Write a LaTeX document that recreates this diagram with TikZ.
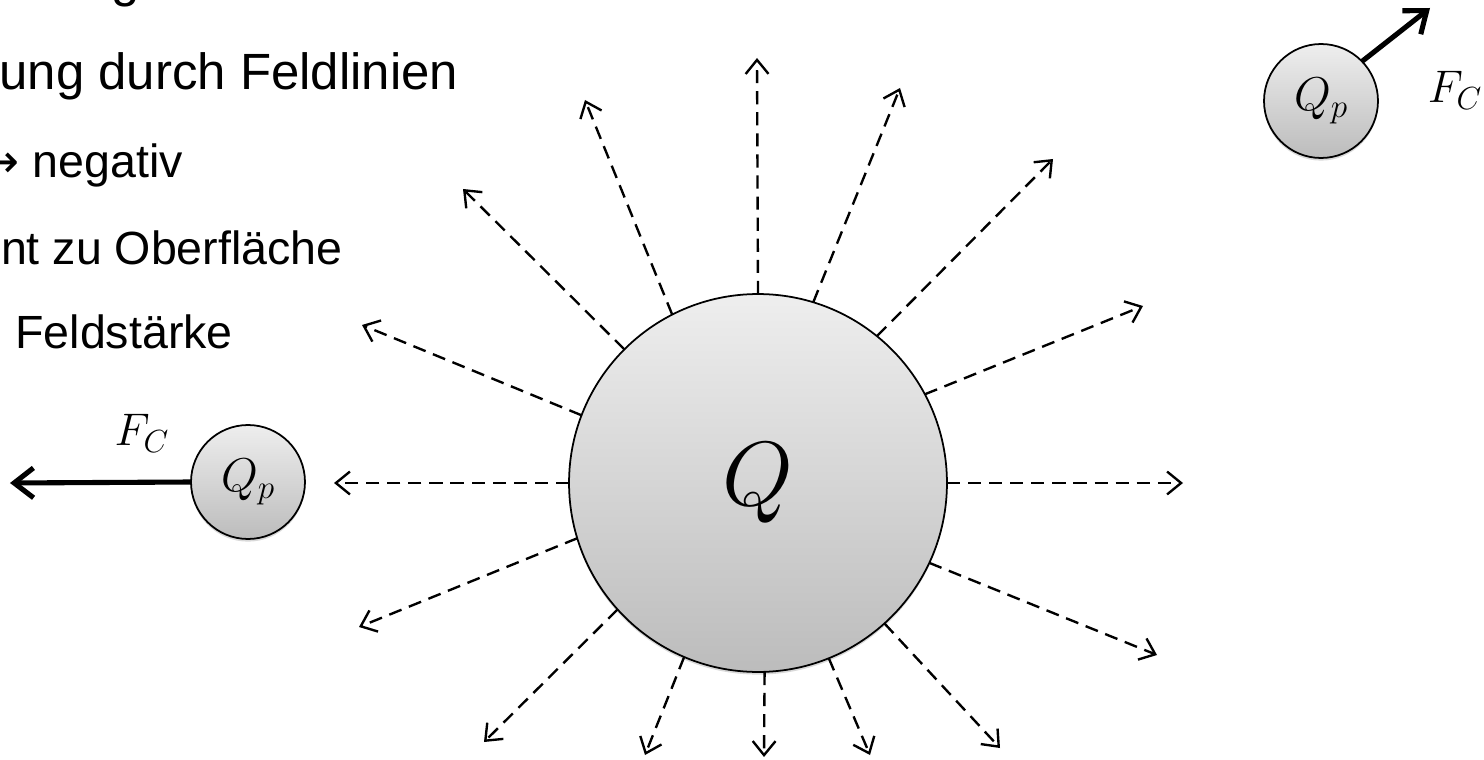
\RequirePackage{fix-cm}
\documentclass[tikz,border=0pt]{standalone}
\usepackage{fontspec}
\setmainfont{Liberation Sans}
\newfontfamily\arrowfont{DejaVu Sans}
\usepackage{amsmath}
\usetikzlibrary{arrows.meta, shadows}
\definecolor{chargetop}{RGB}{238,238,238}
\definecolor{chargebot}{RGB}{188,188,188}

\begin{document}
\begin{tikzpicture}[x=0.02cm, y=-0.02cm,
    charge/.style={circle, draw, line width=1pt, inner sep=0pt, outer sep=0pt,
      top color=chargetop, bottom color=chargebot,
      drop shadow={shadow xshift=0pt, shadow yshift=-1.5pt, opacity=0.3}},
    fieldline/.style={line width=1.35pt, dash pattern=on 7.5pt off 4.5pt,
      -{Straight Barb[length=8pt, width=13pt]}},
    force/.style={line width=2.9pt, -{Straight Barb[length=11pt, width=17pt]}},
    slide/.style={font=\fontsize{26.5}{32}\selectfont},
    label/.style={font=\fontsize{26}{31}\selectfont}]
  \useasboundingbox (0,0) rectangle (1484,760);
  \clip (0,0) rectangle (1484,760);

  % slide text, cut at the left edge
  \node[font=\fontsize{29}{35}\selectfont, anchor=base west, inner sep=0pt] (l0) at (111,-3) {g};
  \node[font=\fontsize{29}{35}\selectfont, anchor=base west, inner sep=0pt] (l1) at (-1,90) {ung durch Feldlinien};
  \node[slide, anchor=base east, inner sep=0pt] (l2) at (183,178) {{\arrowfont →} negativ};
  \node[slide, anchor=base east, inner sep=0pt] (l3) at (343,265) {nt zu Oberfläche};
  \node[slide, anchor=base west, inner sep=0pt] (l4) at (15,348) {Feldstärke};

  % source charge
  \node[charge, minimum size=7.56cm, font=\fontsize{52}{62}\selectfont] (Q) at (758,483) {$Q$};

  % field lines
  \foreach \a/\tx/\ty [count=\i] in {90/757/58, 117/585/100, 135/463/189, 159/362/325,
      180/334/483, 197/359/627, 222/484/742, 247/645/755, 272/764/757, 292/870/755,
      312/1000/748, 335/1157/655, 0/1183/483, 28/1143/306, 51/1053/159, 73/900/88}
  {
    \coordinate (tip\i) at (\tx,\ty);
    \draw[fieldline] (Q.\a) -- (tip\i);
  }

  % test charges
  \node[charge, minimum size=2.28cm, font=\fontsize{27}{32}\selectfont] (qpl) at (248,482) {$Q_p$};
  \node[charge, minimum size=2.28cm, font=\fontsize{27}{32}\selectfont] (qpr) at (1321,101) {$Q_p$};

  % forces
  \coordinate (fl) at (10,483);
  \coordinate (fr) at (1430,8);
  \draw[force] (qpl.west) -- (fl);
  \draw[force] (qpr.44) -- (fr);
  \node[label] (fcl) at (142,433) {$F_C$};
  \node[label] (fcr) at (1455,90) {$F_C$};
\end{tikzpicture}
\end{document}
